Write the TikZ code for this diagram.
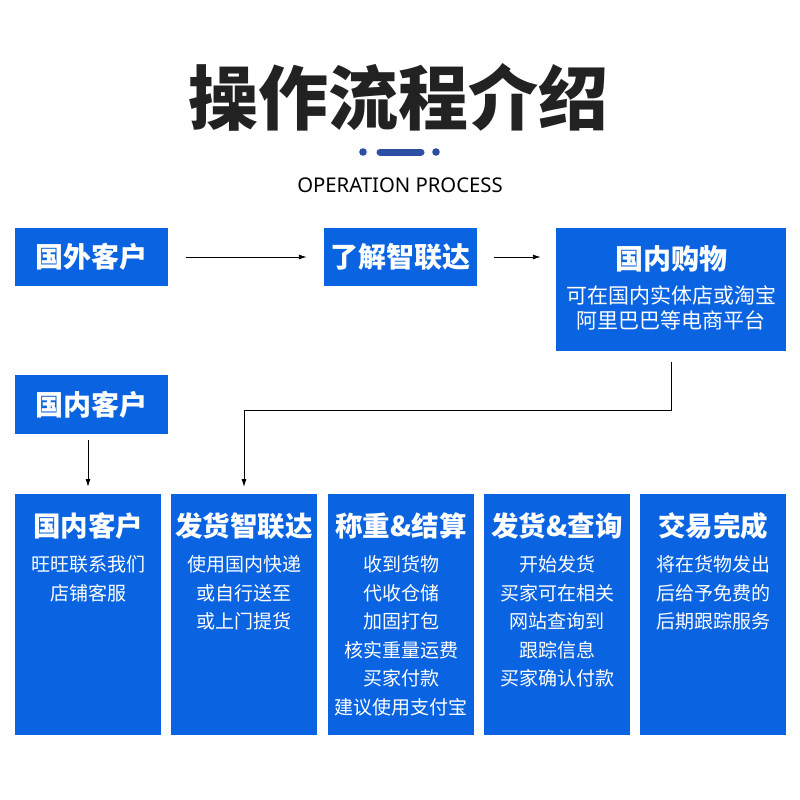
\documentclass[tikz,border=0pt]{standalone}
\usepackage{fontspec}
\setmainfont{Noto Sans CJK SC}
\newfontfamily\latinfont{Noto Sans}
\usetikzlibrary{arrows.meta}
\definecolor{boxblue}{HTML}{0A64E2}
\definecolor{dotblue}{HTML}{2C4FA3}
\definecolor{titlegray}{HTML}{222222}
\tikzset{
  box/.style={fill=boxblue, draw=none, inner sep=0pt, text=white, font=\bfseries\fontsize{28}{30}\selectfont},
  head/.style={text=white, inner sep=0pt, font=\bfseries\fontsize{27.5}{30}\selectfont},
  body/.style={text=white, inner sep=0pt, align=center, font=\fontsize{19}{28.5}\selectfont},
  arr/.style={draw=black, line width=0.9pt, -{Latex[length=8pt,width=5pt]}},
}
\begin{document}
\begin{tikzpicture}[x=1pt,y=-1pt]
\useasboundingbox (0,0) rectangle (800,800);
% title
\node[text=titlegray, inner sep=0pt, font=\bfseries\fontsize{70}{74}\selectfont] (title) at (398,97) {操作流程介绍};
\fill[dotblue] (363,152) circle (3.8);
\fill[dotblue] (436,152) circle (3.8);
\draw[dotblue, line width=7pt, line cap=round] (380,152) -- (421,152);
\node[text=black, inner sep=0pt, font=\latinfont\fontsize{20.3}{22}\selectfont] (sub) at (400,185) {OPERATION PROCESS};
% top row
\node[box, minimum width=153, minimum height=58] (a) at (91.5,257) {国外客户};
\node[box, minimum width=153, minimum height=58] (b) at (400.5,257) {了解智联达};
\node[box, minimum width=230, minimum height=123] (c) at (671,289) {};
\node[head, font=\bfseries\fontsize{28}{30}\selectfont] (ch) at (671,259) {国内购物};
\node[body, font=\fontsize{21}{24.5}\selectfont] (cb) at (671,308) {可在国内实体店或淘宝\\阿里巴巴等电商平台};
\node[box, minimum width=153, minimum height=59] (d) at (91.5,404.5) {国内客户};
% bottom row
\foreach \n/\x/\w in {n1/88/146, n2/244/146, n3/401/146, n4/557/146, n5/713/146}{
  \node[box, minimum width=\w, minimum height=241, anchor=north] (\n) at (\x,494) {};
}
\node[head] (h1) at (88,526) {国内客户};
\node[body, anchor=north] (b1) at (88,555.5) {旺旺联系我们\\店铺客服};
\node[head] (h2) at (244,526) {发货智联达};
\node[body, anchor=north] (b2) at (244,555.5) {使用国内快递\\或自行送至\\或上门提货};
\node[head] (h3) at (401,526) {称重\&结算};
\node[body, anchor=north] (b3) at (401,555.5) {收到货物\\代收仓储\\加固打包\\核实重量运费\\买家付款\\建议使用支付宝};
\node[head] (h4) at (557,526) {发货\&查询};
\node[body, anchor=north] (b4) at (557,555.5) {开始发货\\买家可在相关\\网站查询到\\跟踪信息\\买家确认付款};
\node[head] (h5) at (713,526) {交易完成};
\node[body, anchor=north] (b5) at (713,555.5) {将在货物发出\\后给予免费的\\后期跟踪服务};
% connectors
\coordinate (turn) at (671,410);
\draw[arr] ([xshift=18pt]a.east) -- ([xshift=-17pt]b.west);
\draw[arr] ([xshift=17pt]b.east) -- ([xshift=-15pt]c.west |- b.east);
\draw[arr] ([yshift=-11pt]c.south) -- (turn) -| ([yshift=7pt]n2.north);
\draw[arr] ([yshift=-6pt]d.south -| n1.north) -- ([yshift=7pt]n1.north);
\end{tikzpicture}
\end{document}
